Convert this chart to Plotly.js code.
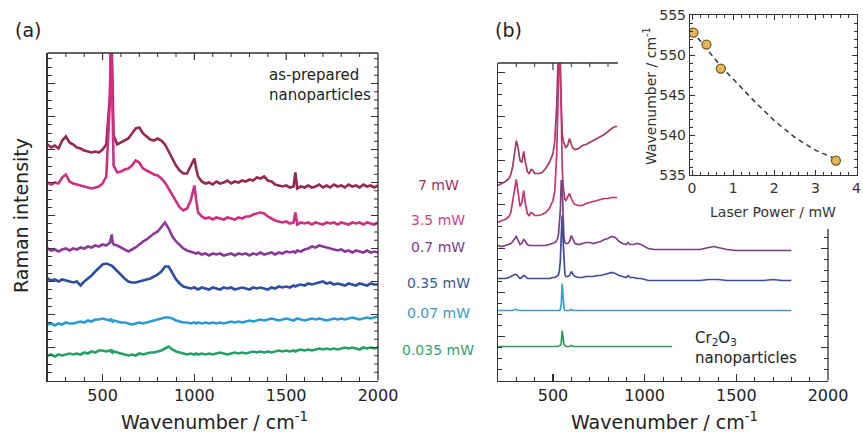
<!DOCTYPE html>
<html>
<head>
<meta charset="utf-8">
<script src="https://cdn.plot.ly/plotly-3.0.1.min.js"></script>
<style>html,body{margin:0;padding:0;background:#fff}#chart{width:863px;height:439px}</style>
</head>
<body>
<div id="chart"></div>
<script>
// ---------- Panel (a): Raman spectra of as-prepared nanoparticles (offset intensity, a.u.) ----------
const wavenumberA = [200,220,240,260,280,300,320,340,360,380,400,420,440,460,480,500,520,540,545,550,555,560,580,600,620,640,660,680,700,720,740,760,780,800,820,840,860,880,900,920,940,960,980,1000,1010,1020,1040,1060,1080,1100,1120,1140,1160,1180,1200,1220,1240,1260,1280,1300,1320,1340,1360,1380,1400,1420,1440,1460,1480,1500,1520,1540,1550,1560,1580,1600,1620,1640,1660,1680,1700,1720,1740,1760,1780,1800,1820,1840,1860,1880,1900,1920,1940,1960,1980,2000];

const a_7mW = [236,233,235,232,240,244,238,236,233,232,230,229,228,229,228,231,236,285,
  335,330,275,
  245,236,238,240,242,247,252,253,247,244,241,240,242,240,236,229,222,215,210,207,207,214,222,
  212,
  204,199,197,198,196,199,197,198,200,197,199,198,200,199,201,200,203,202,204,200,199,196,195,194,195,193,194,
  208,
  192,194,193,195,193,194,196,193,195,193,196,194,195,193,196,194,195,193,196,194,195,193,195];

const a_3p5mW = [198,196,198,197,203,206,199,197,196,195,194,193,192,193,194,197,204,280,
  332,320,255,
  215,208,209,211,212,215,220,218,212,210,208,206,205,202,198,192,185,179,173,170,172,180,195,
  180,
  168,164,162,163,161,163,162,161,163,162,161,163,162,164,164,166,167,168,167,164,162,160,159,158,159,157,158,
  168,
  156,158,157,158,156,158,157,156,158,157,158,156,158,157,156,158,157,158,156,158,157,156,158];

const a_0p7mW = [132,130,131,129,131,132,130,132,131,133,132,134,133,135,134,136,135,138,
  142,146,138,
  136,135,133,131,129,131,133,136,139,141,144,147,149,153,158,152,144,139,135,132,130,129,128,
  127,
  128,126,127,125,127,126,127,125,126,127,125,127,126,127,125,127,126,128,126,127,128,126,128,127,129,128,129,
  128,
  130,129,131,132,134,133,135,134,133,132,131,130,131,129,130,128,130,129,128,130,128,129,128];

const a_0p35mW = [102,100,101,99,101,100,99,98,99,95,99,102,105,109,113,116,117,116,
  116,115,114,
  113,110,106,102,99,98,98,99,100,101,102,104,106,109,114,114,108,101,97,94,93,92,93,
  92,
  91,93,92,91,93,92,91,93,92,93,91,92,93,92,91,93,92,93,92,91,93,92,94,93,94,93,95,
  94,
  95,96,95,97,96,97,98,99,97,98,96,97,96,95,97,96,95,97,96,95,97,96,96];

const a_0p07mW = [56,57,55,57,56,58,57,57,58,59,58,60,59,61,61,62,61,60,
  61,60,59,
  60,59,58,58,57,56,57,58,57,58,59,60,61,62,63,63,62,60,59,58,58,57,58,
  57,
  58,57,58,57,58,57,58,57,58,59,58,59,58,59,60,59,60,61,60,61,62,61,60,61,62,61,60,
  61,
  62,61,60,61,62,61,62,61,60,61,62,61,62,61,62,63,62,61,62,63,62,63,64];

const a_0p035mW = [25,26,24,26,25,26,27,26,27,26,28,27,29,28,30,30,29,30,
  29,30,28,
  29,28,27,26,25,26,25,27,26,27,28,28,29,30,32,34,31,29,28,27,26,27,26,
  27,
  26,27,26,27,26,27,28,27,26,27,28,27,28,27,28,29,28,29,28,29,28,29,30,29,30,29,30,
  29,
  30,31,30,31,30,31,32,31,32,31,32,31,32,33,32,33,32,31,33,32,33,32,33];

// ---------- Panel (b): Cr2O3 nanoparticles ----------
const wavenumberB = [200,220,240,260,270,280,290,300,310,320,330,340,350,360,370,380,390,400,420,440,460,480,500,510,520,525,530,535,540,545,550,555,560,565,570,580,590,600,610,620,640,660,680,700,720,740,760,780,800,820,840,850,860,880,900,910,920,940,960,980,1000,1020,1050,1100,1150,1200,1250,1300,1350,1380,1400,1450,1500,1550,1600,1650,1700,1750,1800];

const b_7mW = [195,197,199,202,
  206,214,228,240,232,220,218,229,218,209,207,211,210,207,
  207,208,212,218,227,
  240,275,310,335,335,300,265,248,240,237,235,233,
  235,242,236,232,231,
  232,235,236,238,240,242,244,246,249,252,254,
  254];

const b_3p5mW = [158,160,161,164,
  168,178,192,201,188,174,178,190,176,167,165,168,167,165,
  165,166,168,172,180,
  190,225,275,330,335,320,260,215,195,185,181,180,
  183,187,182,178,176,
  175,175,177,178,179,180,181,182,182,183,183,
  183];

const b_0p7mW = [135,134,135,136,
  137,139,142,144,140,136,137,141,139,136,135,135,135,135,
  135,135,135,136,137,
  138,140,142,146,155,170,200,200,165,142,138,137,
  137,139,145,141,137,
  136,137,138,138,137,138,139,141,142,144,143,
  141,
  139,137,136,138,136,136,137,136,134,132,131,131,131,
  131,131,131,133,134,133,131,130,130,130,130,130,130,130];

const b_0p35mW = [102,102,102,103,
  104,105,106,106,104,102,103,105,104,102,102,102,102,102,
  102,102,102,102,103,
  103,104,105,106,110,120,145,165,140,112,106,104,
  104,105,109,106,104,
  103,103,104,104,104,105,105,106,107,108,107,
  106,
  105,104,103,105,103,103,102,102,101,100,100,100,100,
  100,100,100,101,101,101,100,100,100,100,100,101,100,100];

const b_0p07mW = [70,70,70,70,
  70,70,71,71,70,70,70,70,70,70,70,70,70,70,
  70,70,70,70,70,
  70,70,70,70,70,71,76,97,84,72,70,70,
  70,70,71,70,70,
  70,70,70,70,70,70,70,70,70,70,70,
  70,
  70,70,70,70,70,70,70,70,70,70,70,70,70,
  70,70,70,70,70,70,70,70,70,70,70,70,70,70];

const b_0p035mW = [34,34,34,34,
  34,34,34,34,34,34,34,34,34,34,34,34,34,34,
  34,34,34,34,34,
  34,34,34,34,35,35,37,50,43,36,35,34,
  34,34,35,34,34,
  34,34,34,34,34,34,34,34,34,34,34,
  34,
  34,34,34,34,34,34,34,34,34,34,34,34,34];

// ---------- Inset: peak position vs laser power ----------
const laserPower = [0.035, 0.35, 0.7, 3.5];
const peakPosition = [552.8, 551.3, 548.3, 536.8];
const fitPower = [0, 0.25, 0.5, 0.75, 1, 1.5, 2, 2.5, 3, 3.5];
const fitPeak = [553.0, 551.4, 549.8, 548.3, 547.0, 544.3, 541.8, 539.7, 538.1, 537.0];

const powerLabels = ['7 mW', '3.5 mW', '0.7 mW', '0.35 mW', '0.07 mW', '0.035 mW'];

// ---------- styling ----------
const W = 863, H = 439;
const px = x => x / W;
const py = y => 1 - y / H;
const FONT = 'DejaVu Sans, Verdana, sans-serif';
const AX = '#333';
const colorsA = ['#952a4e', '#d02f7f', '#8b3a98', '#2d4f9e', '#2b9ad6', '#25a06a'];
const colorsB = ['#a33a62', '#c8326e', '#7d3f82', '#3e4c9a', '#3d9bd0', '#2e9a62'];
const labelColors = ['#a03058', '#d0408a', '#7a3a8a', '#3a5a9a', '#3a9ad0', '#3aa070'];

// frame geometry (pixels)
const A = {l: 47.5, r: 378, t: 53, b: 380.5, top: 327.5, step: 8.25};
const B = {l: 498, r: 828, t: 63, b: 380.5, top: 317.5, step: 11, topEnd: 618, rightStart: 229};

const seriesA = [a_7mW, a_3p5mW, a_0p7mW, a_0p35mW, a_0p07mW, a_0p035mW];
const seriesB = [b_7mW, b_3p5mW, b_0p7mW, b_0p35mW, b_0p07mW, b_0p035mW];

const traces = [];
seriesA.forEach((s, i) => traces.push({
  x: wavenumberA.slice(0, s.length), y: s, type: 'scatter', mode: 'lines',
  line: {color: colorsA[i], width: 2.6}, xaxis: 'x', yaxis: 'y', hoverinfo: 'skip'
}));
seriesB.forEach((s, i) => traces.push({
  x: wavenumberB.slice(0, s.length), y: s, type: 'scatter', mode: 'lines',
  line: {color: colorsB[i], width: 1.7}, xaxis: 'x2', yaxis: 'y2', hoverinfo: 'skip'
}));
traces.push({x: fitPower, y: fitPeak, type: 'scatter', mode: 'lines',
  line: {color: '#333', width: 1.5, dash: '5px,4px'}, xaxis: 'x4', yaxis: 'y4', hoverinfo: 'skip'});
traces.push({x: laserPower, y: peakPosition, type: 'scatter', mode: 'markers',
  marker: {size: 9, color: '#e2b95a', line: {color: '#7a5a1e', width: 1.3}}, xaxis: 'x4', yaxis: 'y4', hoverinfo: 'skip'});

const tickfont = {family: FONT, size: 16, color: '#222'};
function xAxis(domain, anchor) {
  return {domain, anchor, range: [200, 2000], tick0: 0, dtick: 500, ticks: 'inside', ticklen: 7,
    tickwidth: 1.2, tickcolor: AX, showline: true, linecolor: AX, linewidth: 1.3,
    showgrid: false, zeroline: false, tickfont,
    minor: {dtick: 100, tick0: 0, ticks: 'inside', ticklen: 4, tickwidth: 1, tickcolor: AX, showgrid: false}};
}
function yAxis(domain, anchor, top, step) {
  return {domain, anchor, range: [0, top], tick0: 0, dtick: step * 4, ticks: 'inside', ticklen: 7,
    tickwidth: 1.2, tickcolor: AX, showline: true, linecolor: AX, linewidth: 1.3,
    showgrid: false, zeroline: false, showticklabels: false,
    minor: {dtick: step, tick0: 0, ticks: 'inside', ticklen: 4, tickwidth: 1, tickcolor: AX, showgrid: false}};
}

// ---------- top/right frame lines and their inward ticks ----------
const shapes = [];
function seg(x0, y0, x1, y1, xref, yref, w) {
  shapes.push({type: 'line', xref, yref, x0, y0, x1, y1, layer: 'above', line: {color: AX, width: w}});
}
// panel (a) frame
seg(px(A.l), py(A.t), px(A.r), py(A.t), 'paper', 'paper', 1.3);
seg(px(A.r), py(A.t), px(A.r), py(A.b), 'paper', 'paper', 1.3);
for (let w = 300; w < 2000; w += 100) {
  const len = w % 500 === 0 ? 7 : 4;
  seg(w, py(A.t), w, py(A.t + len), 'x', 'paper', w % 500 === 0 ? 1.2 : 1);
}
for (let k = 1; k * A.step < A.top; k++) {
  const len = k % 4 === 0 ? 7 : 4;
  seg(px(A.r), k * A.step, px(A.r - len), k * A.step, 'paper', 'y', k % 4 === 0 ? 1.2 : 1);
}
// panel (b) frame, interrupted by the inset
seg(px(B.l), py(B.t), px(B.topEnd), py(B.t), 'paper', 'paper', 1.3);
seg(px(B.r), py(B.rightStart), px(B.r), py(B.b), 'paper', 'paper', 1.3);
for (let w = 300; w <= 800; w += 100) {
  const len = w % 500 === 0 ? 7 : 4;
  seg(w, py(B.t), w, py(B.t + len), 'x2', 'paper', w % 500 === 0 ? 1.2 : 1);
}
for (let k = 1; B.b - k * B.step > B.rightStart + 3; k++) {
  const len = k % 3 === 0 ? 7 : 4;
  seg(px(B.r), k * B.step, px(B.r - len), k * B.step, 'paper', 'y2', k % 3 === 0 ? 1.2 : 1);
}

const ann = [];
function txt(text, x, y, size, color, opts) {
  ann.push(Object.assign({text, x: px(x), y: py(y), xref: 'paper', yref: 'paper', showarrow: false,
    xanchor: 'center', yanchor: 'middle', font: {family: FONT, size, color}}, opts || {}));
}
txt('(a)', 28, 30, 19, '#222');
txt('(b)', 508, 30, 19, '#222');
txt('Raman intensity', 21, 216, 19, '#222', {textangle: -90});
txt('Wavenumber / cm<sup>-1</sup>', 214, 421, 19, '#222');
txt('Wavenumber / cm<sup>-1</sup>', 664, 421, 19, '#222');
txt('as-prepared<br>nanoparticles', 267, 85, 15, '#222', {xanchor: 'left', align: 'left'});
txt('Cr<sub>2</sub>O<sub>3</sub><br>nanoparticles', 693, 348, 15, '#222', {xanchor: 'left', align: 'left'});
const labelY = [185, 220, 247, 283, 313, 350];
powerLabels.forEach((t, i) => txt(t, 438, labelY[i], 14, labelColors[i]));
txt('Laser Power / mW', 773, 212, 14, '#333');
txt('Wavenumber / cm<sup>-1</sup>', 650, 96, 14, '#333', {textangle: -90});

const insetAxis = {ticks: 'inside', ticklen: 5, tickwidth: 1, tickcolor: AX, showline: true, linecolor: AX,
  linewidth: 1.2, mirror: 'allticks', showgrid: false, zeroline: false,
  tickfont: {family: FONT, size: 14, color: '#333'}};

const layout = {
  width: W, height: H, margin: {l: 0, r: 0, t: 0, b: 0},
  paper_bgcolor: '#fff', plot_bgcolor: '#fff', showlegend: false,
  font: {family: FONT, color: '#222'},
  xaxis: xAxis([px(A.l), px(A.r)], 'y'),
  yaxis: yAxis([py(A.b), py(A.t)], 'x', A.top, A.step),
  xaxis2: xAxis([px(B.l), px(B.r)], 'y2'),
  yaxis2: yAxis([py(B.b), py(B.t)], 'x2', B.top, B.step),
  xaxis4: Object.assign({domain: [px(690), px(856.5)], anchor: 'y4', range: [-0.05, 4.0], dtick: 1, tick0: 0,
    minor: {dtick: 0.2, tick0: 0, ticks: 'inside', ticklen: 3, tickcolor: AX, showgrid: false}}, insetAxis),
  yaxis4: Object.assign({domain: [py(175), py(15)], anchor: 'x4', range: [535, 555], dtick: 5, tick0: 0,
    minor: {dtick: 1, tick0: 0, ticks: 'inside', ticklen: 3, tickcolor: AX, showgrid: false}}, insetAxis),
  shapes,
  annotations: ann
};

Plotly.newPlot('chart', traces, layout, {displayModeBar: false, staticPlot: true});
</script>
</body>
</html>
